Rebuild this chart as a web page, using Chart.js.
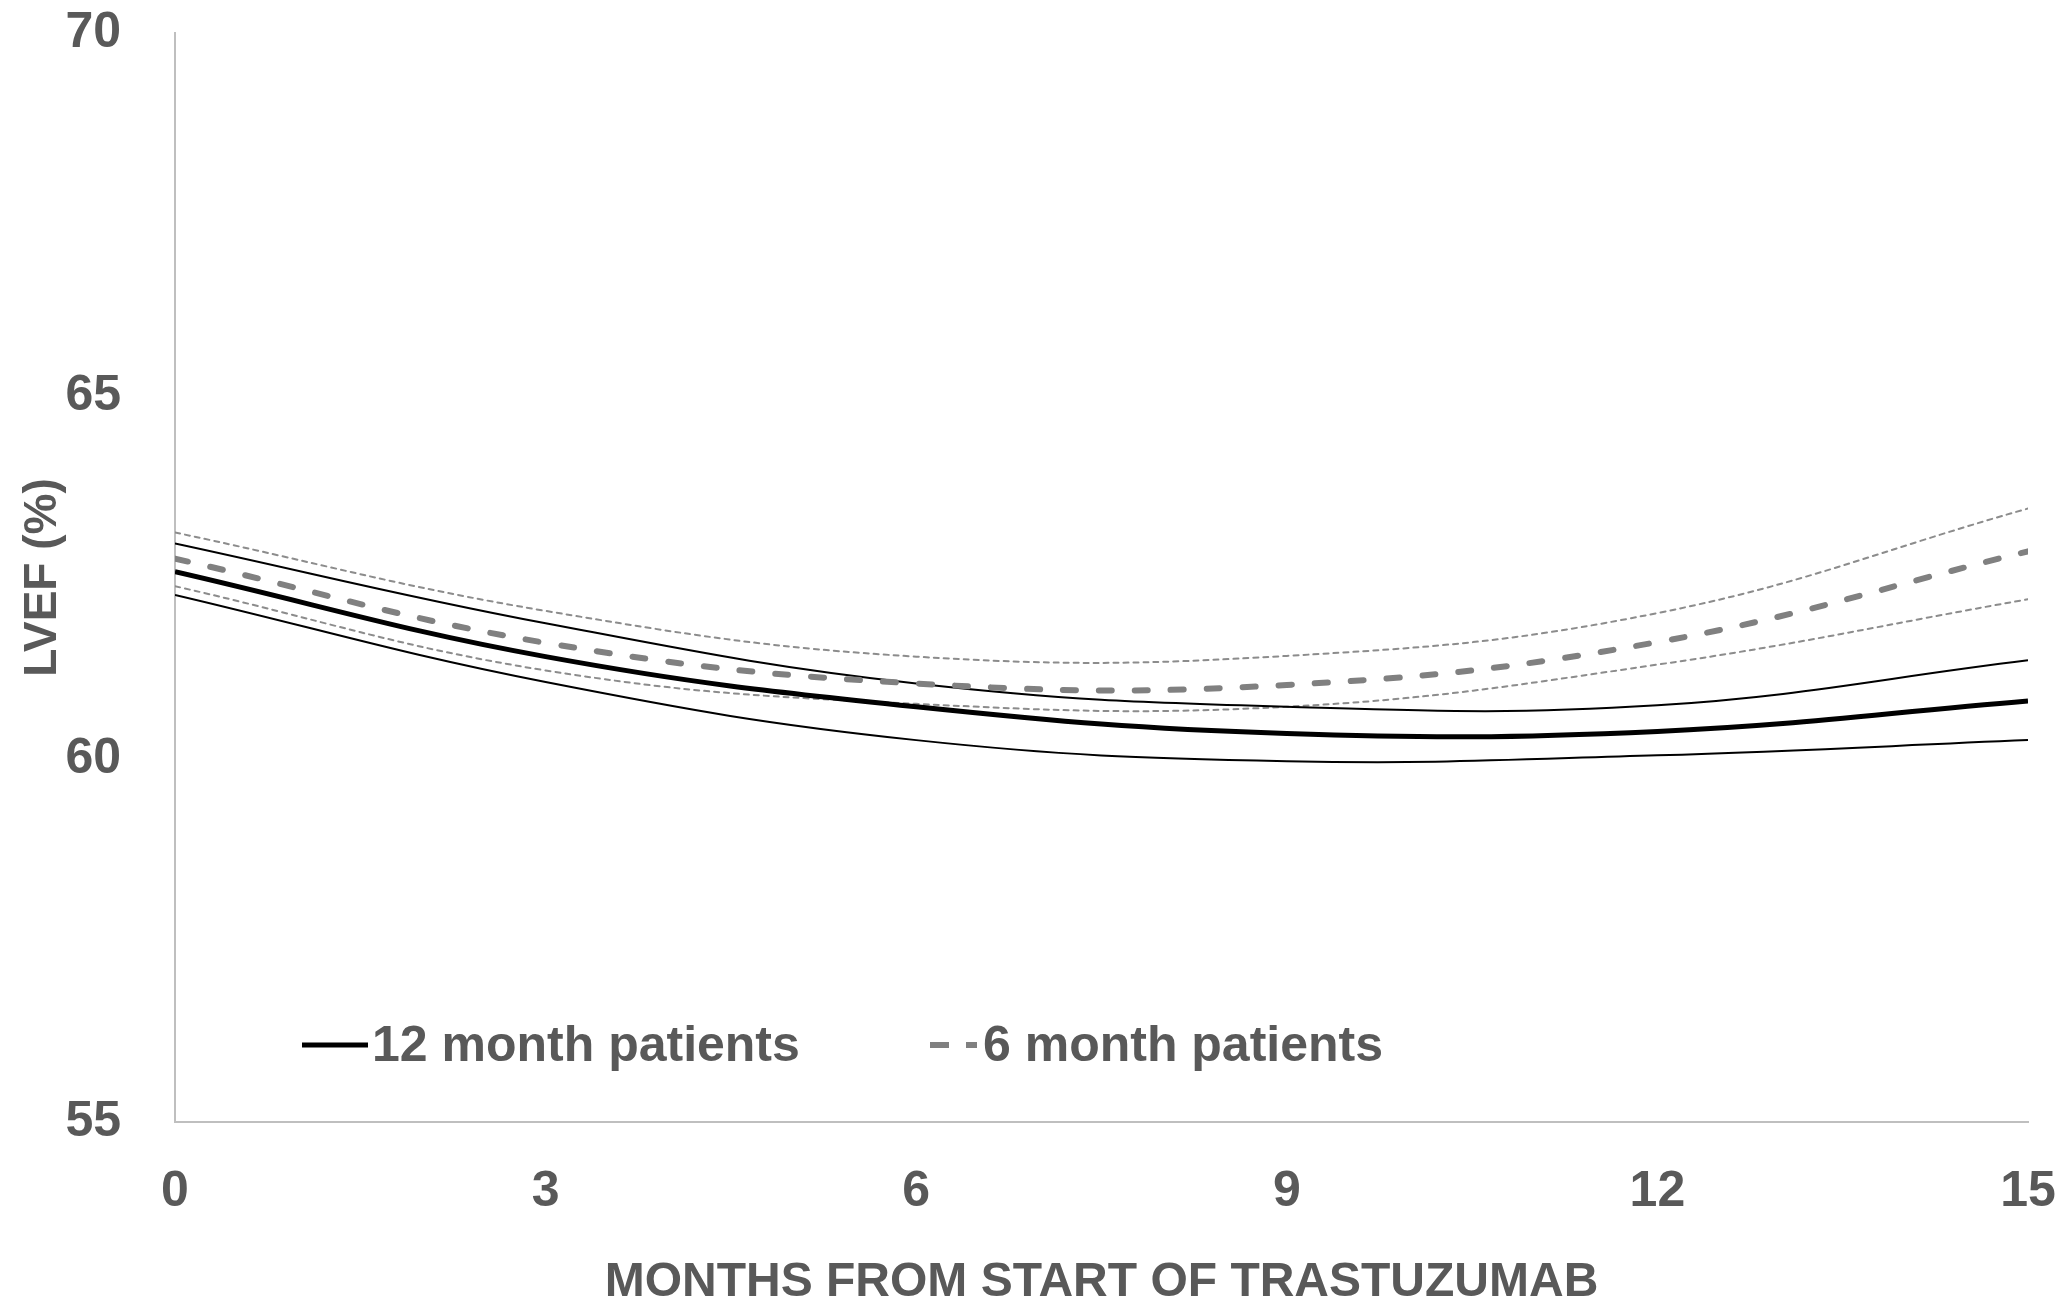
<!DOCTYPE html>
<html>
<head>
<meta charset="utf-8">
<script src="https://cdn.jsdelivr.net/npm/chart.js@4/dist/chart.umd.min.js"></script>
<style>
  html, body { margin: 0; padding: 0; background: #ffffff; }
  #wrap { width: 2061px; height: 1307px; }
</style>
</head>
<body>
<div id="wrap"><canvas id="chart" width="2061" height="1307"></canvas></div>
<script>
var months = [0, 3, 6, 9, 12, 15];
var xTicks = [0, 3, 6, 9, 12, 15];
var yTicks = [55, 60, 65, 70];

// 12 month patients: mean and 95% band
var twelveMean = [62.58, 61.41, 60.72, 60.35, 60.38, 60.80];
var twelveUpper = [62.97, 61.87, 61.04, 60.72, 60.74, 61.36];
var twelveLower = [62.26, 61.06, 60.26, 59.97, 60.05, 60.26];

// 6 month patients: mean and 95% band
var sixMean = [62.76, 61.60, 61.04, 61.02, 61.61, 62.86];
var sixUpper = [63.12, 62.04, 61.41, 61.42, 62.01, 63.45];
var sixLower = [62.38, 61.22, 60.76, 60.72, 61.30, 62.20];

var legendLabels = ['12 month patients', '6 month patients'];

var textColor = '#595959';
var fontFamily = '"Liberation Sans", Arial, sans-serif';

function points(values) {
	return values.map(function(v, i) {
		return {x: months[i], y: v};
	});
}

function line(label, values, color, width, dash, showInLegend) {
	return {
		label: label,
		data: points(values),
		borderColor: color,
		borderWidth: width,
		borderDash: dash,
		borderCapStyle: dash.length ? 'round' : 'butt',
		pointRadius: 0,
		fill: false,
		tension: 0.4,
		inLegend: showInLegend
	};
}

// legend drawn inside the plot area, near the bottom
var insideLegend = {
	id: 'insideLegend',
	afterDraw: function(chart) {
		var ctx = chart.ctx;
		var area = chart.chartArea;
		var y = area.bottom - 77;
		var items = chart.data.datasets.filter(function(d) { return d.inLegend; });
		var starts = [area.left + 127, area.left + 755];
		ctx.save();
		ctx.font = 'bold 50px ' + fontFamily;
		ctx.textBaseline = 'middle';
		ctx.fillStyle = textColor;
		items.forEach(function(d, i) {
			var x0 = starts[i];
			var dashed = d.borderDash.length > 0;
			ctx.beginPath();
			ctx.strokeStyle = d.borderColor;
			ctx.lineWidth = dashed ? 6 : 5;
			ctx.lineCap = 'butt';
			ctx.setLineDash(dashed ? [19, 17] : []);
			ctx.moveTo(x0, y);
			ctx.lineTo(x0 + (dashed ? 47 : 66), y);
			ctx.stroke();
			ctx.setLineDash([]);
			ctx.fillText(legendLabels[i], x0 + (dashed ? 53 : 70), y + 2);
		});
		ctx.restore();
	}
};

var ctx = document.getElementById('chart').getContext('2d');

new Chart(ctx, {
	type: 'line',
	data: {
		datasets: [
			line('12 month patients', twelveMean, '#000000', 5, [], true),
			line('6 month patients', sixMean, '#808080', 6, [13, 23], true),
			line('12 month upper', twelveUpper, '#000000', 2, [], false),
			line('12 month lower', twelveLower, '#000000', 2, [], false),
			line('6 month upper', sixUpper, '#8c8c8c', 2, [5, 5], false),
			line('6 month lower', sixLower, '#8c8c8c', 2, [5, 5], false)
		]
	},
	options: {
		responsive: false,
		animation: false,
		layout: {
			padding: {left: 0, right: 33, top: 33, bottom: 0}
		},
		plugins: {
			legend: {display: false},
			tooltip: {enabled: false}
		},
		scales: {
			x: {
				type: 'linear',
				min: 0,
				max: 15,
				afterBuildTicks: function(scale) {
					scale.ticks = xTicks.map(function(v) { return {value: v}; });
				},
				afterFit: function(scale) {
					scale.height = 185;
					scale.paddingLeft = 0;
					scale.paddingRight = 0;
				},
				grid: {color: 'rgba(0,0,0,0)', drawTicks: false},
				border: {display: true, color: '#bfbfbf', width: 2},
				ticks: {
					padding: 40,
					color: textColor,
					font: {family: fontFamily, size: 50, weight: 'bold'},
					maxRotation: 0
				},
				title: {
					display: true,
					text: 'MONTHS FROM START OF TRASTUZUMAB',
					color: textColor,
					font: {family: fontFamily, size: 48, weight: 'bold', lineHeight: 1},
					padding: {top: 0, bottom: 0}
				}
			},
			y: {
				type: 'linear',
				min: 55,
				max: 70,
				afterBuildTicks: function(scale) {
					scale.ticks = yTicks.map(function(v) { return {value: v}; });
				},
				afterFit: function(scale) {
					scale.width = 175;
					scale.paddingTop = 0;
					scale.paddingBottom = 0;
				},
				grid: {color: 'rgba(0,0,0,0)', drawTicks: false},
				border: {display: true, color: '#bfbfbf', width: 2},
				ticks: {
					padding: 54,
					color: textColor,
					font: {family: fontFamily, size: 50, weight: 'bold'}
				},
				title: {
					display: true,
					text: 'LVEF (%)',
					color: textColor,
					font: {family: fontFamily, size: 46, weight: 'bold', lineHeight: 1},
					padding: {top: 20, bottom: 0}
				}
			}
		}
	},
	plugins: [insideLegend]
});
</script>
</body>
</html>
